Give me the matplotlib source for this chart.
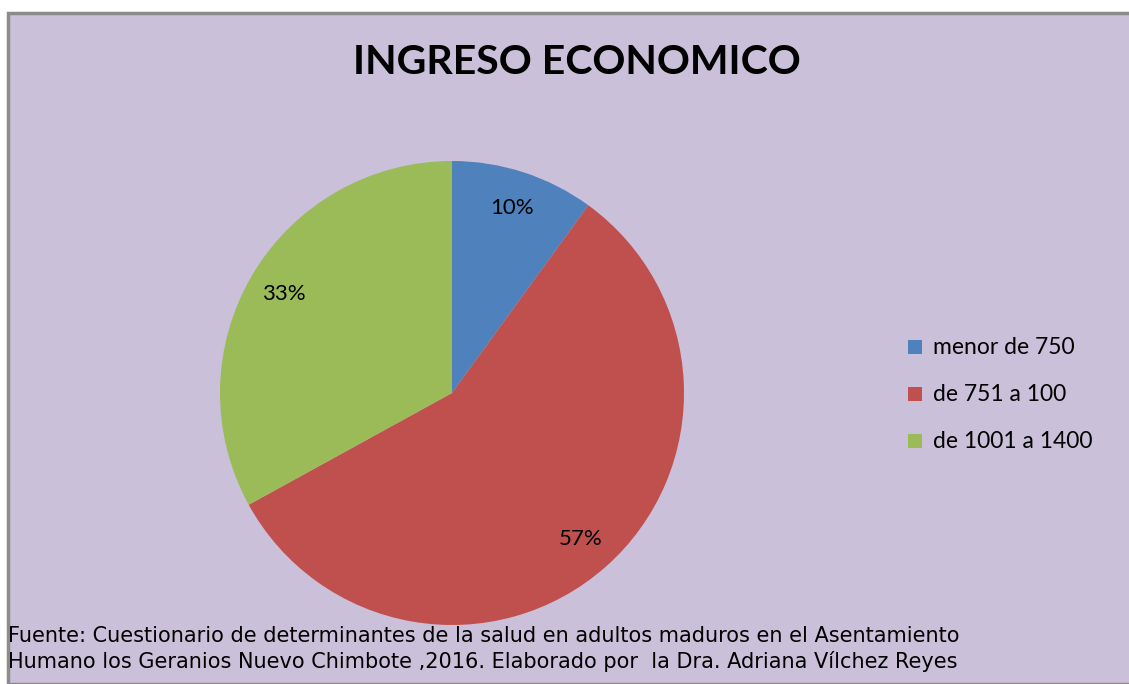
import matplotlib.pyplot as plt
from matplotlib.patches import Rectangle

labels = ["menor de 750", "de 751 a 100", "de 1001 a 1400"]
values = [10, 57, 33]
colors = ["#4F81BD", "#C0504D", "#9BBB59"]
title = "INGRESO ECONOMICO"
source = ("Fuente: Cuestionario de determinantes de la salud en adultos maduros en el Asentamiento\n"
          "Humano los Geranios Nuevo Chimbote ,2016. Elaborado por  la Dra. Adriana Vílchez Reyes")

W, H = 1129, 684
fig = plt.figure(figsize=(W / 100, H / 100), dpi=100)
fig.patch.set_facecolor("white")

# chart area background with grey border on top/left
bg = Rectangle((8 / W, 0), 1, 1 - 13 / H, transform=fig.transFigure,
               facecolor="#CBC0DA", edgecolor="#8C8C8C", linewidth=2.5, zorder=-5)
fig.patches.append(bg)

# pie: centre (452, 393), radius 232 px
R = 232
ax = fig.add_axes([(452 - R) / W, (H - 393 - R) / H, 2 * R / W, 2 * R / H], zorder=2)
ax.patch.set_alpha(0)
wedges, texts, autotexts = ax.pie(
    values, colors=colors, startangle=90, counterclock=False,
    autopct="%1.0f%%", pctdistance=0.84, radius=1,
    textprops=dict(fontsize=16, family="Lato", color="black"))
ax.set_xlim(-1, 1)
ax.set_ylim(-1, 1)
ax.set_aspect("equal")
ax.axis("off")

fig.text(577 / W, 1 - 62 / H, title, ha="center", va="center",
         fontsize=29.5, fontweight="bold", family="Lato")

# legend
for i, (lab, col) in enumerate(zip(labels, colors)):
    y = 347 + 47 * i
    fig.patches.append(Rectangle((908 / W, 1 - (y + 7) / H), 14 / W, 14 / H,
                                 transform=fig.transFigure, facecolor=col,
                                 edgecolor="none"))
    fig.text(933 / W, 1 - y / H, lab, ha="left", va="center",
             fontsize=16.5, family="Lato")

fig.text(8 / W, 1 - 649 / H, source, ha="left", va="center",
         fontsize=15, family="DejaVu Sans", linespacing=1.3)

fig.savefig("out.png", dpi=100)
